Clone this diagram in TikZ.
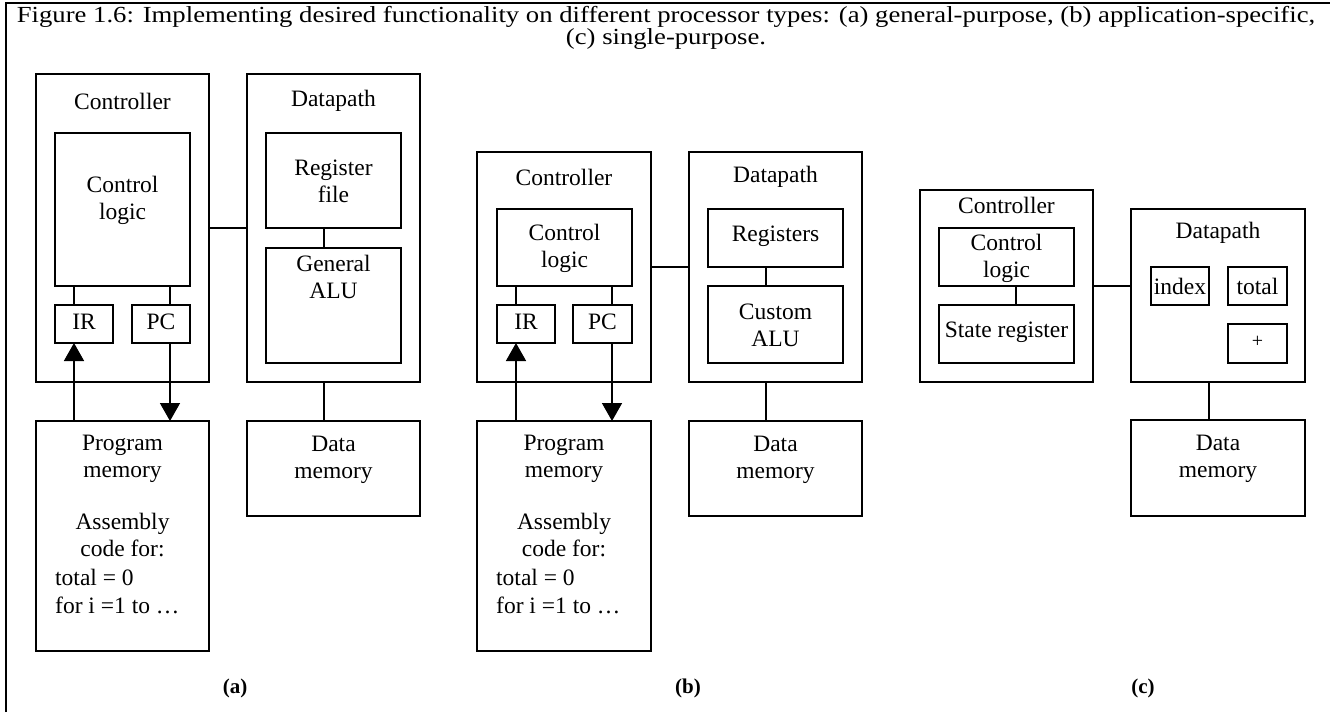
\documentclass[tikz,border=0pt]{standalone}
\usepackage{fontspec}
\setmainfont{Liberation Serif}
\usetikzlibrary{arrows.meta}
\newcommand\bx[6][]{\node[box,minimum width={(#5-#3)*1pt},minimum height={(#6-#4)*1pt},#1] (#2) at ({(#3+#5)/2},{(#4+#6)/2}) {};}
\begin{document}
\begin{tikzpicture}[x=1pt,y=-1pt,
  box/.style={draw,line width=1.6pt,inner sep=0pt,outer sep=0pt},
  lbl/.style={inner sep=0pt,align=center,font=\fontsize{23.5}{27}\selectfont},
  lbll/.style={inner sep=0pt,anchor=west,font=\fontsize{23.5}{27}\selectfont},
  captxt/.style={inner sep=0pt,align=center},
  sublbl/.style={inner sep=0pt,font=\fontsize{21}{23}\selectfont\bfseries},
  wire/.style={line width=1.6pt},
  arr/.style={line width=1.6pt,-{Triangle[length=18pt,width=20pt]}},
  frameline/.style={line width=1.6pt}]
\useasboundingbox (0,0) rectangle (1330,712);
\draw[frameline] (6,712) -- (6,3) -- (1330,3);
\node[captxt] (captiontext) at (666,29) {\scalebox{1.16}[1]{\fontsize{23}{23}\selectfont\begin{tabular}{@{}c@{}}Figure 1.6: Implementing desired functionality on different processor types: (a) general-purpose, (b) application-specific,\\[-1pt](c) single-purpose.\end{tabular}}};

% ---------- (a)
\bx{ctrlA}{36}{74}{209}{382}
\bx{clA}{55}{133}{190}{286}
\bx{irA}{55}{305}{113}{343}
\bx{pcA}{132}{305}{190}{343}
\bx{dpA}{247}{74}{420}{382}
\bx{rfA}{266}{133}{401}{228}
\bx{aluA}{266}{248}{401}{363}
\bx{pmA}{36}{421}{209}{651}
\bx{dmA}{247}{421}{420}{516}
\coordinate (irAx) at (74,0);
\coordinate (pcAx) at (170,0);
\coordinate (dpAx) at (324,0);
\coordinate (cdAy) at (0,228);
\node[lbl] (ctrlAt) at (122.5,101) {Controller};
\node[lbl] (dpAt) at (333.5,101) {Datapath};
\node[lbl] (clAt) at (122.5,200) {Control\\logic};
\node[lbl] (rfAt) at (333.5,181) {Register\\file};
\node[lbl] (aluAt) at (333.5,277) {General\\ALU};
\node[lbl] (irAt) at (84,322) {IR};
\node[lbl] (pcAt) at (161,322) {PC};
\node[lbl] (pmAt) at (122.5,459) {Program\\memory};
\node[lbl] (asAt) at (122.5,535) {Assembly\\code for:};
\node[lbll] (c1At) at (55,577) {total = 0};
\node[lbll] (c2At) at (55,605) {for i =1 to …};
\node[lbl] (dmAt) at (333.5,460) {Data\\memory};
\draw[wire] (irAx |- clA.south) -- (irAx |- irA.north);
\draw[wire] (pcAx |- clA.south) -- (pcAx |- pcA.north);
\draw[wire] (ctrlA.east |- cdAy) -- (dpA.west |- cdAy);
\draw[wire] (dpAx |- rfA.south) -- (dpAx |- aluA.north);
\draw[wire] (dpAx |- dpA.south) -- (dpAx |- dmA.north);
\draw[arr] (irAx |- pmA.north) -- (irAx |- irA.south);
\draw[arr] (pcAx |- pcA.south) -- (pcAx |- pmA.north);

% ---------- (b)
\bx{ctrlB}{477}{152}{651}{382}
\bx{clB}{497}{209}{632}{286}
\bx{irB}{497}{305}{555}{343}
\bx{pcB}{573}{305}{632}{343}
\bx{dpB}{689}{152}{862}{382}
\bx{regB}{708}{209}{843}{267}
\bx{aluB}{708}{286}{843}{363}
\bx{pmB}{477}{421}{651}{651}
\bx{dmB}{689}{421}{862}{516}
\coordinate (irBx) at (516,0);
\coordinate (pcBx) at (612,0);
\coordinate (dpBx) at (766,0);
\coordinate (cdBy) at (0,267);
\node[lbl] (ctrlBt) at (564,177) {Controller};
\node[lbl] (dpBt) at (775.5,177) {Datapath};
\node[lbl] (clBt) at (564.5,248) {Control\\logic};
\node[lbl] (regBt) at (775.5,236) {Registers};
\node[lbl] (aluBt) at (775.5,325) {Custom\\ALU};
\node[lbl] (irBt) at (526,322) {IR};
\node[lbl] (pcBt) at (602.5,322) {PC};
\node[lbl] (pmBt) at (564,459) {Program\\memory};
\node[lbl] (asBt) at (564,535) {Assembly\\code for:};
\node[lbll] (c1Bt) at (496,577) {total = 0};
\node[lbll] (c2Bt) at (496,605) {for i =1 to …};
\node[lbl] (dmBt) at (775.5,460) {Data\\memory};
\draw[wire] (irBx |- clB.south) -- (irBx |- irB.north);
\draw[wire] (pcBx |- clB.south) -- (pcBx |- pcB.north);
\draw[wire] (ctrlB.east |- cdBy) -- (dpB.west |- cdBy);
\draw[wire] (dpBx |- regB.south) -- (dpBx |- aluB.north);
\draw[wire] (dpBx |- dpB.south) -- (dpBx |- dmB.north);
\draw[arr] (irBx |- pmB.north) -- (irBx |- irB.south);
\draw[arr] (pcBx |- pcB.south) -- (pcBx |- pmB.north);

% ---------- (c)
\bx{ctrlC}{920}{190}{1093}{382}
\bx{clC}{939}{228}{1074}{286}
\bx{srC}{939}{305}{1074}{363}
\bx{dpC}{1131}{209}{1305}{382}
\bx{idxC}{1151}{267}{1209}{305}
\bx{totC}{1228}{267}{1287}{305}
\bx{plusC}{1228}{324}{1287}{363}
\bx{dmC}{1131}{420}{1305}{516}
\coordinate (clCx) at (1016,0);
\coordinate (dpCx) at (1209,0);
\coordinate (cdCy) at (0,286);
\node[lbl] (ctrlCt) at (1006.5,205) {Controller};
\node[lbl] (clCt) at (1006.5,258) {Control\\logic};
\node[lbl] (srCt) at (1006.5,332) {State register};
\node[lbl] (dpCt) at (1218,233) {Datapath};
\node[lbl] (idxCt) at (1180,286) {index};
\node[lbl] (totCt) at (1257.5,286) {total};
\node[lbl,font=\fontsize{20}{22}\selectfont] (plusCt) at (1257.5,342) {+};
\node[lbl] (dmCt) at (1218,459) {Data\\memory};
\draw[wire] (clCx |- clC.south) -- (clCx |- srC.north);
\draw[wire] (ctrlC.east |- cdCy) -- (dpC.west |- cdCy);
\draw[wire] (dpCx |- dpC.south) -- (dpCx |- dmC.north);

% ---------- sub labels
\node[sublbl] (subA) at (235,688) {(a)};
\node[sublbl] (subB) at (688,688) {(b)};
\node[sublbl] (subC) at (1143,688) {(c)};
\end{tikzpicture}
\end{document}
